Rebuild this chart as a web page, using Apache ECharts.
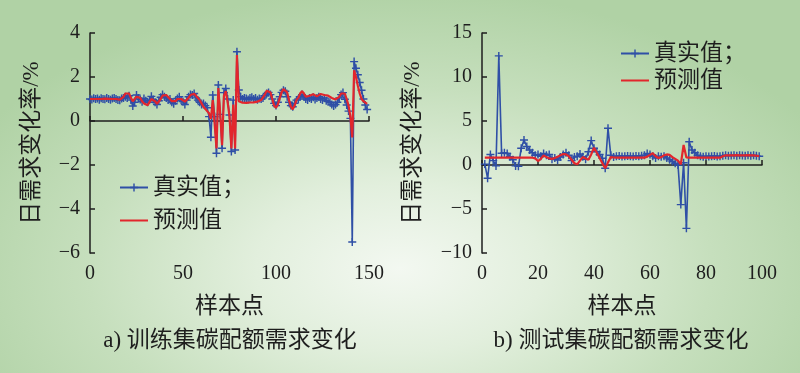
<!DOCTYPE html>
<html>
<head>
<meta charset="utf-8">
<script src="https://cdn.jsdelivr.net/npm/echarts@6/dist/echarts.min.js"></script>
<style>
html,body{margin:0;padding:0;}
#chart{width:800px;height:373px;background:radial-gradient(ellipse 60% 75% at 50% 72%, #f3f8f1 0%, #e2efdd 30%, #c6dfbd 65%, #b0d2a5 100%);}
</style>
</head>
<body>
<div id="chart"></div>
<script>
// ---------- data ----------
const seriesNames = ['真实值', '预测值'];
const leftXTicks = [0, 50, 100, 150];
const leftYTicks = [-6, -4, -2, 0, 2, 4];
const rightXTicks = [0, 20, 40, 60, 80, 100];
const rightYTicks = [-10, -5, 0, 5, 10, 15];

// training set (x = 0..149)
const trainTrue = [
  1.0, 0.98, 1.03, 1.0, 1.02, 0.97, 1.03, 1.0, 0.99, 1.04,
  1.0, 0.97, 1.02, 1.05, 1.0, 0.96, 0.94, 1.02, 1.05, 1.1,
  1.05, 1.15, 0.95, 0.68, 0.85, 1.18, 1.05, 0.98, 0.88, 1.02,
  0.92, 0.85, 0.95, 1.12, 0.98, 0.85, 0.75, 0.92, 1.08, 1.2,
  1.1, 1.05, 0.95, 1.0, 0.85, 0.78, 0.92, 1.02, 1.1, 0.95,
  0.88, 0.75, 0.95, 1.1, 1.2, 1.18, 1.25, 1.05, 0.95, 0.85,
  0.75, 0.8, 0.7, 0.6, 0.2, -0.74, 1.18, 0.2, -1.47, 1.64,
  0.3, -1.24, 1.29, 1.48, 1.0, 0.27, -1.39, 0.95, -1.32, 3.15,
  1.41, 1.1, 1.0, 1.05, 1.02, 0.98, 1.05, 1.08, 1.0, 1.04,
  0.97, 1.02, 1.0, 1.05, 1.15, 1.25, 1.3, 1.2, 1.0, 0.8,
  0.7, 0.85, 1.1, 1.3, 1.4, 1.35, 1.1, 0.85, 0.7, 0.65,
  0.8, 0.95, 1.0, 1.1, 1.2, 1.1, 1.0, 0.95, 1.05, 1.0,
  1.08, 0.98, 1.05, 1.1, 1.0, 0.95, 1.05, 0.92, 0.88, 0.85,
  0.75, 0.68, 0.75, 0.85, 1.05, 1.2, 1.29, 0.99, 0.73, 0.45,
  0.12, -5.5, 2.7, 2.4, 2.1, 1.75, 1.4, 1.0, 0.73, 0.52
];
const trainPred = [
  1.0, 1.0, 1.0, 1.01, 1.0, 1.0, 1.0, 1.01, 1.02, 1.02,
  1.01, 1.0, 1.0, 1.0, 1.0, 0.98, 0.97, 1.0, 1.1, 1.25,
  1.33, 1.25, 1.05, 0.9, 0.95, 1.1, 1.15, 1.05, 0.9, 0.8,
  0.75, 0.72, 0.8, 1.0, 1.05, 0.9, 0.78, 0.8, 1.0, 1.15,
  1.2, 1.18, 1.1, 1.0, 0.9, 0.85, 0.9, 1.0, 1.05, 1.0,
  0.92, 0.88, 0.92, 1.05, 1.18, 1.2, 1.24, 1.2, 1.05, 0.95,
  0.8, 0.65, 0.6, 0.45, 0.35, 0.1, 0.95, -0.1, -1.25, 1.5,
  0.35, -1.1, 1.15, 1.35, 0.85, 0.2, -1.25, 0.75, -1.25, 3.0,
  0.9, 0.85, 0.83, 0.82, 0.82, 0.83, 0.84, 0.85, 0.85, 0.86,
  0.88, 0.9, 0.95, 1.0, 1.2, 1.38, 1.41, 1.3, 1.0, 0.7,
  0.6, 0.75, 1.05, 1.3, 1.45, 1.48, 1.3, 0.95, 0.65, 0.53,
  0.7, 0.95, 1.05, 1.25, 1.36, 1.25, 1.1, 1.08, 1.15, 1.2,
  1.22, 1.15, 1.12, 1.2, 1.23, 1.2, 1.18, 1.2, 1.15, 1.1,
  1.05, 1.0, 0.98, 1.0, 1.1, 1.25, 1.33, 1.25, 1.0, 0.7,
  0.2, -0.75, 2.3, 2.0, 1.6, 1.25, 1.0, 0.9, 0.82, 0.78
];

// test set (x = 1..99)
const testTrue = [
  0.1, -1.5, 1.2, 0.5, -0.1, 12.4, 1.33, 1.4, 1.3, 0.95,
  0.6, -0.1, -0.15, 1.9, 2.84, 2.1, 1.7, 1.4, 1.1, 1.2,
  1.0, 1.3, 1.1, 1.2, 0.64, 0.8, 0.57, 0.9, 1.2, 1.4,
  1.1, 0.5, 0.9, 1.0, 1.25, 0.95, 0.64, 1.5, 2.77, 1.9,
  1.5, 1.2, 0.76, -0.38, 4.17, 1.1, 0.9, 1.0, 1.02, 0.98,
  1.0, 1.03, 1.0, 0.97, 1.02, 1.0, 1.05, 1.1, 1.3, 1.2,
  1.0, 0.8, 1.0, 0.95, 1.0, 0.8, 0.6, 0.4, 0.2, 0.0,
  -4.5, 0.26, -7.2, 2.65, 1.7, 1.4, 1.1, 1.0, 0.95, 1.0,
  0.98, 1.0, 1.02, 0.97, 1.0, 1.05, 1.1, 1.05, 1.08, 1.1,
  1.05, 1.1, 1.08, 1.05, 1.1, 1.06, 1.1, 1.05, 1.0
];
const testPred = [
  0.83, 0.83, 0.83, 0.83, 0.83, 0.83, 0.83, 0.83, 0.83, 0.83,
  0.83, 0.83, 0.83, 0.83, 0.83, 0.83, 0.83, 0.83, 0.75, 0.45,
  0.7, 1.1, 0.9, 0.75, 0.7, 0.8, 0.95, 1.1, 1.25, 1.2,
  1.0, 0.6, 0.2, 0.08, 0.5, 0.9, 0.75, 0.6, 1.2, 1.97,
  1.4, 0.8, 0.2, -0.38, 0.3, 0.9, 0.85, 0.83, 0.83, 0.83,
  0.83, 0.83, 0.83, 0.83, 0.83, 0.83, 0.83, 0.83, 0.95, 1.15,
  1.33, 1.0, 0.8, 0.9, 1.1, 1.2, 1.15, 0.9, 0.7, 0.5,
  0.08, 2.27, 0.85, 0.83, 0.83, 0.83, 0.83, 0.83, 0.83, 0.83,
  0.83, 0.83, 0.83, 0.83, 0.83, 1.0, 1.1, 1.1, 1.1, 1.1,
  1.12, 1.1, 1.1, 1.1, 1.12, 1.1, 1.1, 1.05, 1.0
];

// ---------- chart ----------
const BLUE = '#2f4fa6';
const RED = '#e2262c';
const INK = '#1e1e1e';
const NUM_FONT = "'Liberation Serif','Noto Sans CJK SC'";
const PLUS = 'path://M4.1,0H5.9V4.1H10V5.9H5.9V10H4.1V5.9H0V4.1H4.1Z';
const LINE_ICON = 'path://M0,4H28V6H0Z M0,0H0.01V0.01H0Z M27.99,9.99H28V10H27.99Z';

function xAxis(idx, ticks) {
  return {
    type: 'value', gridIndex: idx,
    min: ticks[0], max: ticks[ticks.length - 1], interval: ticks[1] - ticks[0],
    name: '样本点', nameLocation: 'middle', nameGap: 42,
    nameTextStyle: {fontSize: 23, color: INK, fontFamily: NUM_FONT},
    axisLine: {lineStyle: {color: INK, width: 1.5}},
    axisTick: {inside: true, length: 5, lineStyle: {color: INK, width: 1.5}},
    axisLabel: {fontSize: 20, color: INK, fontFamily: NUM_FONT, margin: 11},
    splitLine: {show: false}
  };
}
function yAxis(idx, ticks, gap) {
  return {
    type: 'value', gridIndex: idx,
    min: ticks[0], max: ticks[ticks.length - 1], interval: ticks[1] - ticks[0],
    name: '日需求变化率/%', nameLocation: 'middle', nameGap: gap, nameRotate: 90,
    nameTextStyle: {fontSize: 23, color: INK, fontFamily: NUM_FONT},
    axisLine: {show: true, lineStyle: {color: INK, width: 1.5}},
    axisTick: {show: true, inside: true, length: 5, lineStyle: {color: INK, width: 1.5}},
    axisLabel: {fontSize: 20, color: INK, fontFamily: NUM_FONT, margin: 10,
      formatter: v => String(v).replace('-', '\u2212')},
    splitLine: {show: false}
  };
}
function trueSeries(idx, vals, x0) {
  return {
    name: seriesNames[0], type: 'line', xAxisIndex: idx, yAxisIndex: idx,
    data: vals.map((v, i) => [i + x0, v]),
    symbol: PLUS, symbolSize: 8, showSymbol: true, showAllSymbol: true,
    itemStyle: {color: BLUE}, lineStyle: {color: BLUE, width: 1.6},
    animation: false, z: 2
  };
}
function predSeries(idx, vals, x0) {
  return {
    name: seriesNames[1], type: 'line', xAxisIndex: idx, yAxisIndex: idx,
    data: vals.map((v, i) => [i + x0, v]),
    symbol: 'none', itemStyle: {color: RED}, lineStyle: {color: RED, width: 2.2},
    animation: false, z: 3
  };
}
function legend(left, top, gap) {
  return {
    orient: 'vertical', left: left, top: top,
    itemWidth: 28, itemHeight: 10, itemGap: gap,
    data: [{name: seriesNames[0]}, {name: seriesNames[1], icon: LINE_ICON}],
    formatter: n => n === seriesNames[0] ? n + '；' : n,
    textStyle: {fontSize: 23, color: INK, lineHeight: 23, fontFamily: NUM_FONT},
    selectedMode: false
  };
}

const chart = echarts.init(document.getElementById('chart'), null, {renderer: 'canvas'});
chart.setOption({
  backgroundColor: 'transparent',
  animation: false,
  grid: [
    {left: 90, top: 33, width: 279, height: 220},
    {left: 482, top: 33, width: 280, height: 220}
  ],
  xAxis: [xAxis(0, leftXTicks), xAxis(1, rightXTicks)],
  yAxis: [yAxis(0, leftYTicks, 47), yAxis(1, rightYTicks, 58)],
  legend: [legend(114, 171, 10), legend(615, 37, 4)],
  series: [
    trueSeries(0, trainTrue, 0), predSeries(0, trainPred, 0),
    trueSeries(1, testTrue, 1), predSeries(1, testPred, 1)
  ],
  graphic: [
    {type: 'text', position: [230, 341], style: {text: 'a) 训练集碳配额需求变化', font: "23px 'Liberation Serif','Noto Sans CJK SC'", fill: INK, textAlign: 'center', textVerticalAlign: 'middle'}},
    {type: 'text', position: [621, 341], style: {text: 'b) 测试集碳配额需求变化', font: "23px 'Liberation Serif','Noto Sans CJK SC'", fill: INK, textAlign: 'center', textVerticalAlign: 'middle'}}
  ]
});
</script>
</body>
</html>
